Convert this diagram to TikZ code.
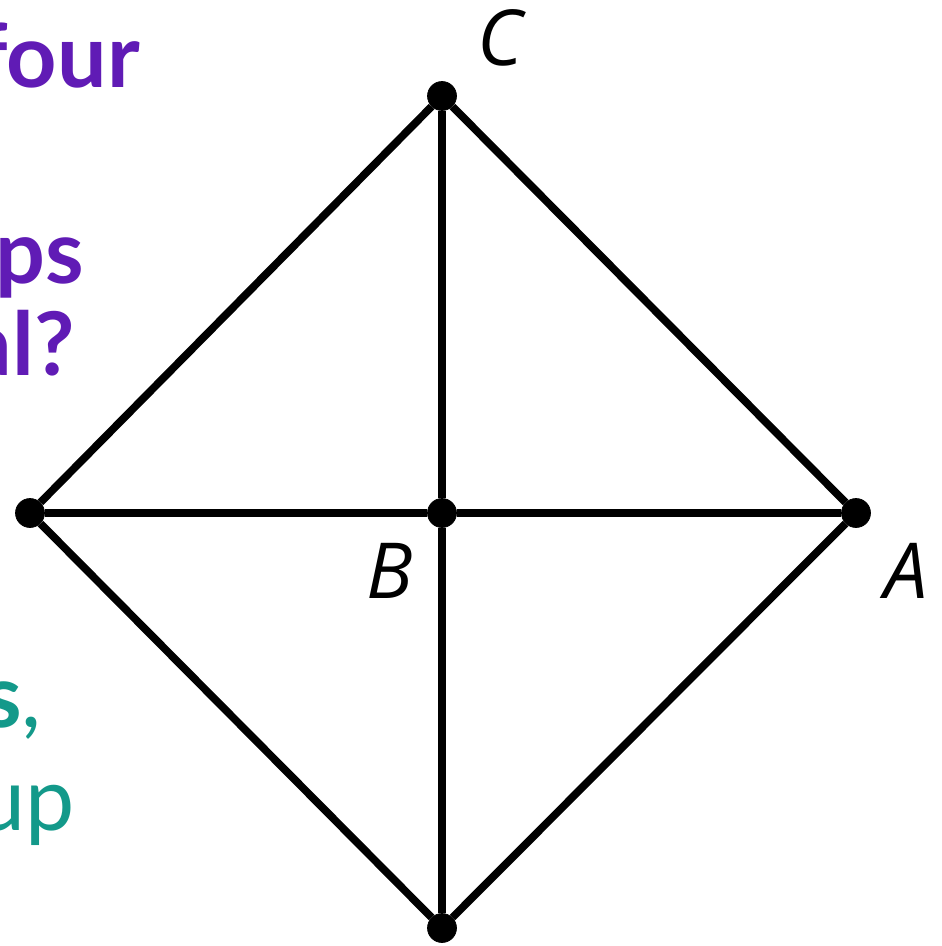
\documentclass[tikz,border=0pt]{standalone}
\usepackage{fontspec}
\setmainfont{Lato}
\newfontfamily\labfont{Open Sans}
\definecolor{qpurple}{RGB}{96,27,181}
\definecolor{qteal}{RGB}{19,153,138}

\begin{document}
\begin{tikzpicture}[x=0.02cm,y=-0.02cm,
    pt/.style={draw,circle,fill=black,inner sep=0pt,minimum size=0.58cm},
    lab/.style={font=\labfont\itshape\fontsize{44}{44}\selectfont,inner sep=0pt},
    frag/.style={anchor=base east,inner sep=0pt,font=\fontsize{50}{50}\selectfont}]
  \useasboundingbox (0,0) rectangle (942,946);
  \clip (0,0) rectangle (942,946);
  % cropped question text on the left
  \foreach \n/\x/\y/\t in {f1/140/88/four,f2/84/283/ps,f3/75/375/al?}{
    \node[frag,text=qpurple,font=\fontsize{50}{50}\selectfont\bfseries] (\n) at (\x,\y) {\t};}
  \node[frag,text=qteal] (f4) at (42,727) {\textbf{s},};
  \node[frag,text=qteal] (f5) at (75,830) {up};
  % the four corners and the centre
  \foreach \n/\x/\y in {C/442/96,L/30/513,B/442/513,A/856/513,D/442/928}{
    \node[pt] (\n) at (\x,\y) {};}
  \draw[line width=4.4pt,line join=miter] (C)--(A)--(D)--(L)--(C);
  \draw[line width=4.4pt] (C)--(B)--(D) (L)--(B)--(A);
  \node[lab] (labC) at (500,38) {C};
  \node[lab] (labB) at (390,571) {B};
  \node[lab] (labA) at (906,571) {A};
\end{tikzpicture}
\end{document}
